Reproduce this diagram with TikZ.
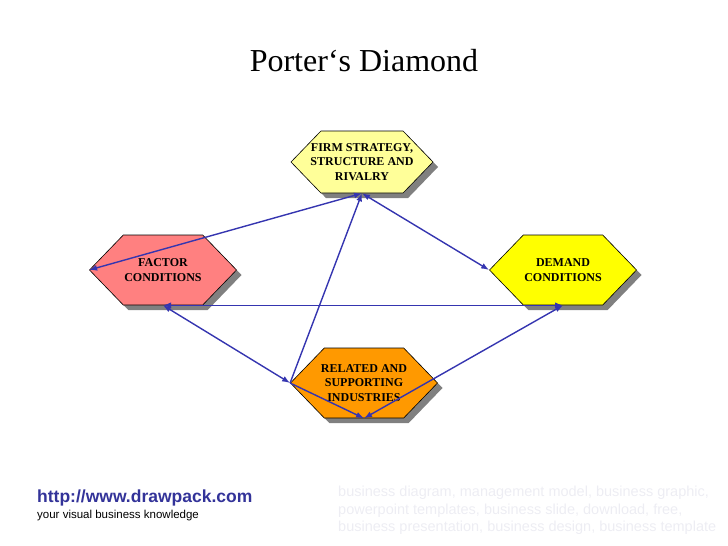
\documentclass[tikz,border=0pt]{standalone}
\usepackage{fontspec}
\setmainfont{Liberation Serif}
\newfontfamily\arialfont{Liberation Sans}
\usetikzlibrary{arrows.meta, shapes.symbols, shadows}
\definecolor{firmyellow}{HTML}{FFFF99}
\definecolor{factorred}{HTML}{FF8080}
\definecolor{demandyellow}{HTML}{FFFF00}
\definecolor{relatedorange}{HTML}{FF9900}
\definecolor{hexshadow}{HTML}{808080}
\definecolor{linkblue}{HTML}{3535B0}
\definecolor{urlblue}{HTML}{333399}
\definecolor{watermark}{HTML}{EDEDF3}

\begin{document}
\begin{tikzpicture}[x=1pt, y=-1pt,
      hexbox/.style={signal, signal to=east and west, signal pointer angle=92,
        draw=black, line width=0.6pt, inner xsep=-14pt, inner ysep=0pt,
        minimum width=147pt, minimum height=70pt, align=center,
        font=\bfseries\fontsize{12}{14.5}\selectfont,
        drop shadow={shadow xshift=5pt, shadow yshift=-5pt,
          fill=hexshadow, opacity=1}},
      link/.style={draw=linkblue, line width=1.4pt},
      >={Latex[length=8pt, width=6pt]}
    ]
      \useasboundingbox (0,0) rectangle (728,546);
      \node[anchor=base, font=\fontsize{32}{38}\selectfont] (title) at (364,71)
        {Porter‘s Diamond};
      \node[hexbox, fill=firmyellow, minimum width=142pt, minimum height=62pt]
        (firm) at (362,162) {FIRM STRATEGY,\\STRUCTURE AND\\RIVALRY};
      \node[hexbox, fill=factorred] (factor) at (163,270)
        {FACTOR\\CONDITIONS};
      \node[hexbox, fill=demandyellow] (demand) at (563,270)
        {DEMAND\\CONDITIONS};
      \node[hexbox, fill=relatedorange] (related) at (364,383)
        {RELATED AND\\SUPPORTING\\INDUSTRIES};
      \draw[link, <->] (factor.west) -- (firm.south);
      \draw[link, <->] (firm.south) -- (demand.west);
      \draw[link, ->] (related.west) -- (firm.south);
      \draw[link, <->] (factor.south) -- (demand.south);
      \draw[link, <->] (related.west) -- (factor.south);
      \draw[link, ->] (related.west) -- (related.south);
      \draw[link, <->] (demand.south) -- (related.south);
      \node[anchor=base west, inner sep=0, text=urlblue,
        font=\arialfont\bfseries\fontsize{17.5}{20}\selectfont] (url) at (37,502)
        {http://www.drawpack.com};
      \node[anchor=base west, inner sep=0,
        font=\arialfont\fontsize{11.5}{14}\selectfont] (tagline) at (37,518)
        {your visual business knowledge};
      \node[anchor=north west, inner sep=0, align=left, text=watermark,
        font=\arialfont\fontsize{14.5}{17.5}\selectfont] (keywords) at (338,486)
        {business diagram, management model, business graphic,\\
         powerpoint templates, business slide, download, free,\\
         business presentation, business design, business template};
    \end{tikzpicture}
\end{document}
